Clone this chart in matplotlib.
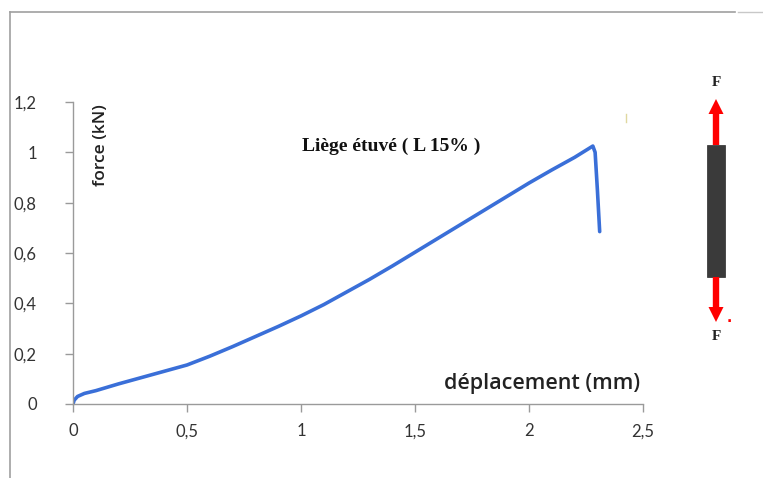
import matplotlib
matplotlib.use("Agg")
from matplotlib import pyplot as plt
from matplotlib.lines import Line2D
from matplotlib.patches import Rectangle, FancyArrow
from matplotlib.ticker import FuncFormatter

# courbe force / déplacement
displacement = [0.0, 0.005, 0.02, 0.05, 0.1, 0.2, 0.3, 0.4, 0.5, 0.6, 0.7, 0.8,
                0.9, 1.0, 1.1, 1.2, 1.3, 1.4, 1.5, 1.6, 1.7, 1.8, 1.9, 2.0,
                2.1, 2.2, 2.28, 2.29, 2.30, 2.31]
force = [0.0, 0.015, 0.03, 0.042, 0.053, 0.08, 0.105, 0.13, 0.155, 0.19, 0.228,
         0.268, 0.308, 0.35, 0.395, 0.445, 0.495, 0.548, 0.603, 0.658, 0.713,
         0.768, 0.823, 0.878, 0.93, 0.98, 1.025, 1.0, 0.85, 0.685]

x_ticks = [0, 0.5, 1, 1.5, 2, 2.5]
y_ticks = [0, 0.2, 0.4, 0.6, 0.8, 1, 1.2]

W, H = 763, 478
fig = plt.figure(figsize=(W / 100, H / 100), dpi=100)
fig.patch.set_facecolor("white")

ax = fig.add_axes([73 / W, 1 - 404 / H, 570 / W, 302 / H])
ax.plot(displacement, force, color="#3a6fd8", lw=2.6, solid_capstyle="round",
        solid_joinstyle="round")
ax.set_xlim(0, 2.5)
ax.set_ylim(0, 1.2)
ax.set_xticks(x_ticks)
ax.set_yticks(y_ticks)

def comma(v, pos):
    s = f"{v:g}"
    return s.replace(".", ",")

ax.xaxis.set_major_formatter(FuncFormatter(comma))
ax.yaxis.set_major_formatter(FuncFormatter(comma))

for side in ["top", "right"]:
    ax.spines[side].set_visible(False)
for side in ["left", "bottom"]:
    ax.spines[side].set_color("#9a9a9a")
    ax.spines[side].set_linewidth(1.0)
ax.tick_params(direction="out", length=6, color="#9a9a9a", width=1.0,
               labelcolor="#333333", labelsize=12)
ax.tick_params(axis="y", pad=20)
ax.tick_params(axis="x", pad=8)
for lab in ax.get_xticklabels() + ax.get_yticklabels():
    lab.set_fontfamily("Lato")

fig.text(101 / W, 1 - 145 / H, "force (kN)", rotation=90, ha="center", va="center",
         fontsize=12.5, family="Open Sans", weight="semibold", color="#222222")
fig.text(640 / W, 1 - 383 / H, "déplacement (mm)", ha="right", va="center",
         fontsize=15.5, family="Open Sans", weight="semibold", color="#222222")
fig.text(302 / W, 1 - 146 / H, "Liège étuvé ( L 15% )", ha="left", va="center",
         fontsize=14, family="Liberation Serif", weight="bold", color="#111111")

# cadre extérieur
fig.add_artist(Line2D([10 / W, 10 / W], [0, 1 - 12 / H], color="#a0a0a0", lw=1.2))
fig.add_artist(Line2D([10 / W, 735 / W], [1 - 12 / H, 1 - 12 / H], color="#a0a0a0", lw=1.2))
fig.add_artist(Line2D([738 / W, 1], [1 - 12 / H, 1 - 12 / H], color="#c8c8c8", lw=1.0))

# petite marque parasite
fig.add_artist(Line2D([626 / W, 626 / W], [1 - 114 / H, 1 - 122 / H], color="#e0d8a0", lw=1.0))

# schéma de l'éprouvette en traction
fig.add_artist(Rectangle((707 / W, 1 - 277 / H), 18 / W, 132 / H,
                         facecolor="#3a3a3a", edgecolor="#2a2a2a", lw=0.5))
cx = 716
fig.add_artist(FancyArrow(cx / W, 1 - 145 / H, 0, 46 / H, width=4 / H,
                          head_width=15 / W, head_length=15 / H,
                          length_includes_head=True, color="#ff0000", lw=0))
fig.add_artist(FancyArrow(cx / W, 1 - 277 / H, 0, -45 / H, width=4 / H,
                          head_width=15 / W, head_length=15 / H,
                          length_includes_head=True, color="#ff0000", lw=0))
fig.text(cx / W, 1 - 82 / H, "F", ha="center", va="center", fontsize=11,
         family="Liberation Serif", weight="bold", color="#222222")
fig.text(cx / W, 1 - 337 / H, "F", ha="center", va="center", fontsize=11,
         family="Liberation Serif", weight="bold", color="#222222")
fig.text(729 / W, 1 - 318 / H, ".", ha="center", va="center", fontsize=10,
         weight="bold", color="#ff0000")

fig.savefig("out.png", dpi=100, facecolor="white")
